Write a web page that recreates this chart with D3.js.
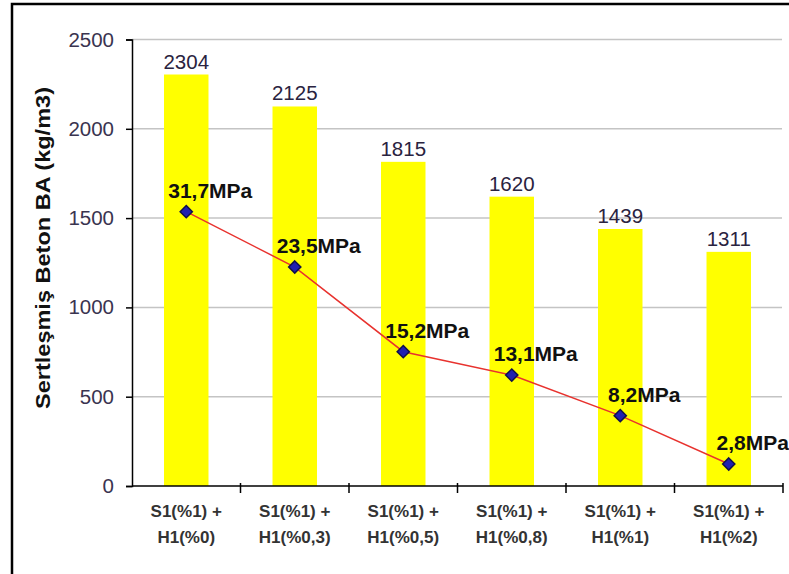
<!DOCTYPE html>
<html>
<head>
<meta charset="utf-8">
<script src="https://cdn.jsdelivr.net/npm/d3@7"></script>
<style>
  body { margin: 0; background: #fff; }
  svg { display: block; font-family: Arial, "Liberation Sans", sans-serif; }
</style>
</head>
<body>
<div id="vis"></div>
<script>
// mixes: two-line category labels
var categories = ['S1(%1) +|H1(%0)', 'S1(%1) +|H1(%0,3)', 'S1(%1) +|H1(%0,5)',
  'S1(%1) +|H1(%0,8)', 'S1(%1) +|H1(%1)', 'S1(%1) +|H1(%2)'];
// hardened concrete unit weight (kg/m3)
var density = [2304, 2125, 1815, 1620, 1439, 1311];
// compressive strength line, plotted on the same axis as in the picture
var strengthPos = [1536, 1226, 752, 621, 394, 123];
var strengthLabels = ['31,7MPa', '23,5MPa', '15,2MPa', '13,1MPa', '8,2MPa', '2,8MPa'];
var yTicks = [0, 500, 1000, 1500, 2000, 2500];

var width = 789;
var height = 574;
var margin = {left: 132, right: 6, top: 39.5, bottom: 88};

var svg = d3.select('#vis')
  .append('svg')
  .attr('width', width)
  .attr('height', height);

var x = d3.scaleBand()
  .domain(d3.range(categories.length))
  .range([margin.left, width - margin.right])
  .paddingInner(0.59)
  .paddingOuter(0.295);

var xCat = d3.scaleBand()
  .domain(d3.range(categories.length))
  .range([margin.left, width - margin.right]);

var y = d3.scaleLinear()
  .domain([0, 2500])
  .range([height - margin.bottom, margin.top]);

// gridlines
svg.append('g')
  .selectAll('line')
  .data(yTicks.filter(d => d > 0))
  .enter()
  .append('line')
  .attr('x1', margin.left)
  .attr('x2', width - margin.right - 1)
  .attr('y1', d => y(d))
  .attr('y2', d => y(d))
  .style('stroke', '#c4c4c4')
  .style('stroke-width', 1.5);

// bars
svg.append('g')
  .selectAll('rect')
  .data(density)
  .enter()
  .append('rect')
  .attr('x', (d, i) => x(i))
  .attr('width', x.bandwidth())
  .attr('y', d => y(d))
  .attr('height', d => y(0) - y(d))
  .style('fill', '#ffff00');

// bar value labels
svg.append('g')
  .selectAll('text')
  .data(density)
  .enter()
  .append('text')
  .attr('x', (d, i) => x(i) + x.bandwidth() / 2)
  .attr('y', d => y(d) - 6)
  .attr('text-anchor', 'middle')
  .style('font-size', '20.5px')
  .style('fill', '#2a2340')
  .text(d => d);

// y axis
var yAxis = d3.axisLeft(y)
  .tickValues(yTicks)
  .tickFormat(d3.format('d'))
  .tickSize(6)
  .tickPadding(12);
var gy = svg.append('g')
  .attr('transform', `translate(${margin.left},0)`)
  .call(yAxis);
gy.select('.domain').style('stroke', '#000').style('stroke-width', 1.5);
gy.selectAll('.tick line').style('stroke', '#000').style('stroke-width', 1.5);
gy.selectAll('.tick text')
  .style('font-size', '20.5px')
  .style('font-family', 'Arial, "Liberation Sans", sans-serif')
  .style('fill', '#3a3450');

// x axis
var xAxisY = y(0);
svg.append('line')
  .attr('x1', margin.left)
  .attr('x2', width - margin.right)
  .attr('y1', xAxisY)
  .attr('y2', xAxisY)
  .style('stroke', '#000')
  .style('stroke-width', 1.5);

var tickPos = d3.range(categories.length + 1).map(i => margin.left + i * xCat.step());
svg.append('g')
  .selectAll('line')
  .data(tickPos.slice(1))
  .enter()
  .append('line')
  .attr('x1', d => d)
  .attr('x2', d => d)
  .attr('y1', xAxisY - 3)
  .attr('y2', xAxisY + 7)
  .style('stroke', '#000')
  .style('stroke-width', 1.5);

var xl = svg.append('g')
  .selectAll('text')
  .data(categories)
  .enter()
  .append('text')
  .attr('text-anchor', 'middle')
  .style('font-size', '17px')
  .style('font-weight', 'bold')
  .style('fill', '#333');
xl.each(function(d, i) {
  var parts = d.split('|');
  var cx = xCat(i) + xCat.bandwidth() / 2;
  d3.select(this).append('tspan').attr('x', cx).attr('y', 517).text(parts[0]);
  d3.select(this).append('tspan').attr('x', cx).attr('y', 543).text(parts[1]);
});

// strength line
var line = d3.line()
  .x((d, i) => xCat(i) + xCat.bandwidth() / 2)
  .y(d => y(d));

svg.append('path')
  .datum(strengthPos)
  .attr('d', line)
  .style('fill', 'none')
  .style('stroke', '#e8322e')
  .style('stroke-width', 1.5);

svg.append('g')
  .selectAll('path')
  .data(strengthPos)
  .enter()
  .append('path')
  .attr('d', d3.symbol().type(d3.symbolDiamond2).size(95))
  .attr('transform', (d, i) => `translate(${xCat(i) + xCat.bandwidth() / 2},${y(d)})`)
  .style('fill', '#2020b0')
  .style('stroke', '#10104a')
  .style('stroke-width', 1.5);

svg.append('g')
  .selectAll('text')
  .data(strengthPos)
  .enter()
  .append('text')
  .attr('x', (d, i) => xCat(i) + xCat.bandwidth() / 2 + 24)
  .attr('y', d => y(d) - 14)
  .attr('text-anchor', 'middle')
  .style('font-size', '21px')
  .style('font-weight', 'bold')
  .style('fill', '#111')
  .text((d, i) => strengthLabels[i]);

// y axis title
svg.append('text')
  .attr('transform', 'translate(50,248) rotate(-90)')
  .attr('text-anchor', 'middle')
  .attr('textLength', 322)
  .attr('lengthAdjust', 'spacingAndGlyphs')
  .style('font-size', '21px')
  .style('font-weight', 'bold')
  .style('fill', '#111')
  .text('Sertleşmiş Beton BA (kg/m3)');

// chart frame (left and top edges visible)
svg.append('path')
  .attr('d', `M12,${height} L12,4 L${width},4`)
  .style('fill', 'none')
  .style('stroke', '#000')
  .style('stroke-width', 2.5);
</script>
</body>
</html>
